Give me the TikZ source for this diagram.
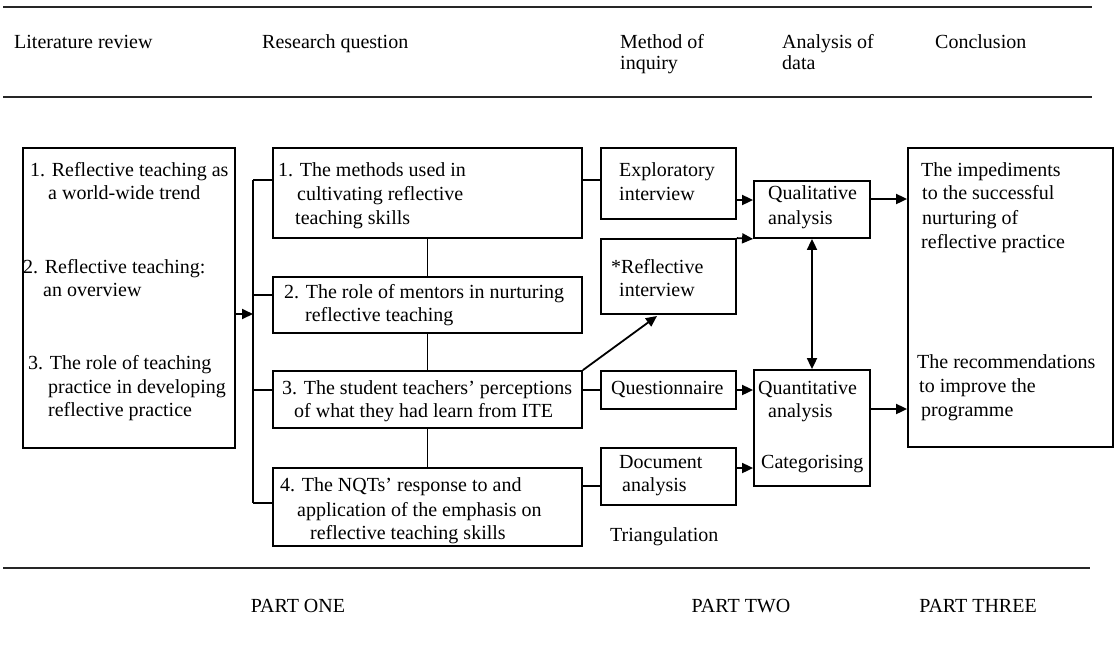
\documentclass[tikz,border=0pt]{standalone}
\usepackage{fontspec}
\setmainfont{Liberation Serif}
\usetikzlibrary{arrows.meta}

\tikzset{
  box/.style={draw, line width=1.8pt, inner sep=0pt, rectangle},
  txt/.style={inner sep=0pt, anchor=base west, font=\fontsize{20}{23.5}\selectfont},
  part/.style={inner sep=0pt, anchor=base, font=\fontsize{20}{23.5}\selectfont},
  rule/.style={line width=2.5pt, black!85},
  link/.style={line width=1.8pt},
  arrow/.style={line width=1.8pt, -{Triangle[length=11pt,width=10pt]}},
  darrow/.style={line width=1.8pt, {Triangle[length=11pt,width=10pt]}-{Triangle[length=11pt,width=10pt]}}
}
\newcommand\tline[4]{\node[txt] (#1) at (#2,#3) {#4};}

\begin{document}
\begin{tikzpicture}[x=1pt,y=-1pt]
\useasboundingbox (0,0) rectangle (1118,667);

% rules across the page
\coordinate (r1a) at (3,7);   \coordinate (r1b) at (1092,7);
\coordinate (r2a) at (3,97);  \coordinate (r2b) at (1092,97);
\coordinate (r3a) at (3,568); \coordinate (r3b) at (1090,568);
\draw[rule] (r1a) -- (r1b);
\draw[rule] (r2a) -- (r2b);
\draw[rule] (r3a) -- (r3b);

% column headings
\tline{h1}{14}{48}{Literature review}
\tline{h2}{262}{48}{Research question}
\tline{h3a}{620}{48}{Method of}
\tline{h3b}{620}{69}{inquiry}
\tline{h4a}{782}{48}{Analysis of}
\tline{h4b}{782}{69}{data}
\tline{h5}{935}{48}{Conclusion}

% boxes
\node[box, minimum width=212pt, minimum height=300pt] (lit) at (129,298) {};
\node[box, minimum width=309pt, minimum height=90pt] (rq1) at (427.5,193) {};
\node[box, minimum width=309pt, minimum height=56pt] (rq2) at (427.5,305) {};
\node[box, minimum width=309pt, minimum height=57pt] (rq3) at (427.5,399.5) {};
\node[box, minimum width=309pt, minimum height=78pt] (rq4) at (427.5,507) {};
\node[box, minimum width=135pt, minimum height=71pt] (expl) at (668.5,183.5) {};
\node[box, minimum width=135pt, minimum height=75pt] (refl) at (668.5,276.5) {};
\node[box, minimum width=135pt, minimum height=38pt] (quest) at (668.5,390) {};
\node[box, minimum width=135pt, minimum height=57pt] (doc) at (668.5,476.5) {};
\node[box, minimum width=116pt, minimum height=57pt] (qual) at (812,209.5) {};
\node[box, minimum width=116pt, minimum height=116pt] (quant) at (812,428) {};
\node[box, minimum width=205pt, minimum height=299pt] (concl) at (1010.5,297.5) {};

% literature review
\tline{l1a}{30}{176}{1. Reflective teaching as}
\tline{l1b}{48}{199}{a world-wide trend}
\tline{l2a}{23}{273}{2. Reflective teaching:}
\tline{l2b}{43}{296}{an overview}
\tline{l3a}{28}{369}{3. The role of teaching}
\tline{l3b}{48}{393}{practice in developing}
\tline{l3c}{48}{416}{reflective practice}

% research questions
\tline{q1a}{278}{176}{1. The methods used in}
\tline{q1b}{297}{200}{cultivating reflective}
\tline{q1c}{295}{224}{teaching skills}
\tline{q2a}{284}{298}{2. The role of mentors in nurturing}
\tline{q2b}{305}{321}{reflective teaching}
\tline{q3a}{282}{394}{3. The student teachers’ perceptions}
\tline{q3b}{294}{417}{of what they had learn from ITE}
\tline{q4a}{280}{491}{4. The NQTs’ response to and}
\tline{q4b}{297}{516}{application of the emphasis on}
\tline{q4c}{310}{539}{reflective teaching skills}

% methods of inquiry
\tline{m1a}{619}{176}{Exploratory}
\tline{m1b}{619}{200}{interview}
\tline{m2a}{611}{273}{*Reflective}
\tline{m2b}{619}{296}{interview}
\tline{m3}{611}{394}{Questionnaire}
\tline{m4a}{619}{468}{Document}
\tline{m4b}{622}{491}{analysis}
\tline{tri}{610}{541}{Triangulation}

% analysis of data
\tline{a1a}{768}{199}{Qualitative}
\tline{a1b}{768}{224}{analysis}
\tline{a2a}{758}{394}{Quantitative}
\tline{a2b}{768}{417}{analysis}
\tline{a2c}{761}{468}{Categorising}

% conclusions
\tline{c1a}{921}{176}{The impediments}
\tline{c1b}{922}{199}{to the successful}
\tline{c1c}{922}{224}{nurturing of}
\tline{c1d}{921}{248}{reflective practice}
\tline{c2a}{917}{368}{The recommendations}
\tline{c2b}{919}{392}{to improve the}
\tline{c2c}{921}{416}{programme}

% part labels
\node[part] (p1) at (298,612) {PART ONE};
\node[part] (p2) at (741,612) {PART TWO};
\node[part] (p3) at (978,612) {PART THREE};

% bus joining the research questions
\coordinate (b0) at (253,314);
\coordinate (b1) at (253,180);
\coordinate (b2) at (253,295);
\coordinate (b3) at (253,390);
\coordinate (b4) at (253,503);
\draw[link] (b1) -- (b4);
\draw[arrow] (lit.east |- b0) -- (b0);
\draw[link] (b1) -- (b1 -| rq1.west);
\draw[link] (b2) -- (b2 -| rq2.west);
\draw[link] (b3) -- (b3 -| rq3.west);
\draw[link] (b4) -- (b4 -| rq4.west);
\draw[link] (rq1.south) -- (rq2.north);
\draw[link] (rq2.south) -- (rq3.north);
\draw[link] (rq3.south) -- (rq4.north);

% research questions to methods
\coordinate (k1) at (590,180);
\coordinate (k4) at (590,486);
\coordinate (kr) at (657,316);
\draw[link] (k1 -| rq1.east) -- (k1 -| expl.west);
\draw[link] (rq3.east |- quest.west) -- (quest.west);
\draw[link] (k4 -| rq4.east) -- (k4 -| doc.west);
\draw[arrow] (rq3.north east) -- (kr);

% methods to analysis
\coordinate (e1) at (745,200);
\coordinate (e4) at (745,468);
\draw[arrow] (e1 -| expl.east) -- (e1 -| qual.west);
\draw[arrow] (refl.north east) -- (qual.south west);
\draw[arrow] (quest.east) -- (quest.east -| quant.west);
\draw[arrow] (e4 -| doc.east) -- (e4 -| quant.west);
\draw[darrow] (qual.south) -- (quant.north);

% analysis to conclusions
\coordinate (f1) at (890,199);
\coordinate (f2) at (890,409);
\draw[arrow] (f1 -| qual.east) -- (f1 -| concl.west);
\draw[arrow] (f2 -| quant.east) -- (f2 -| concl.west);
\end{tikzpicture}
\end{document}
